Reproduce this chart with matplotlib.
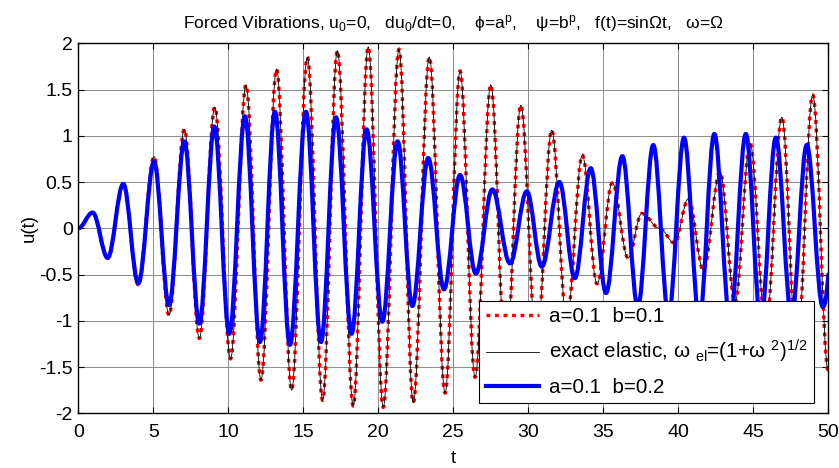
import numpy as np
import matplotlib
matplotlib.use("Agg")
import matplotlib.pyplot as plt
from matplotlib.path import Path
from matplotlib.patches import PathPatch
from matplotlib.lines import Line2D

plt.rcParams['font.family'] = ['Liberation Sans', 'DejaVu Sans']
plt.rcParams['mathtext.fontset'] = 'custom'
plt.rcParams['mathtext.rm'] = 'Liberation Sans'
plt.rcParams['mathtext.it'] = 'Liberation Sans:italic'

# extrema (time, value); curves pass through them
t_b01 = [0, 0.96, 1.96, 3.0, 4.0, 5.05, 6.05, 7.07, 8.07, 9.1, 10.15, 11.18,
         12.18, 13.22, 14.22, 15.27, 16.29, 17.27, 18.33, 19.33, 20.33, 21.38,
         22.33, 23.4, 24.45, 25.45, 26.45, 27.5, 28.5, 29.5, 30.55, 31.56,
         32.56, 33.6, 34.58, 35.6, 36.65, 37.56, 38.75, 39.75, 40.67, 41.67,
         42.78, 43.78, 44.78, 45.83, 46.9, 47.9, 48.96, 50.0]
u_b01 = [0, 0.17, -0.32, 0.48, -0.61, 0.775, -0.94, 1.07, -1.19, 1.31, -1.41, 1.55,
         -1.64, 1.72, -1.75, 1.85, -1.86, 1.92, -1.92, 1.96, -1.935, 1.935,
         -1.885, 1.85, -1.78, 1.70, -1.61, 1.55, -1.45, 1.33, -1.28, 1.06,
         -1.0, 0.79, -0.60, 0.49, -0.32, 0.16, 0.0, -0.16, 0.32, -0.45,
         0.61, -0.80, 0.92, -1.08, 1.20, -1.35, 1.44, -1.55]

# exact elastic solution lies on top of the a=0.1 b=0.1 curve
t_elastic = t_b01
u_elastic = u_b01

t_b02 = [0, 0.96, 1.96, 3.0, 4.0, 5.05, 6.05, 7.07, 8.07, 9.07, 10.07, 11.11,
         12.11, 13.11, 14.11, 15.18, 16.18, 17.18, 18.22, 19.22, 20.27, 21.29,
         22.27, 23.33, 24.38, 25.45, 26.5, 27.6, 28.78, 29.9, 30.9, 32.07,
         33.1, 34.16, 35.18, 36.27, 37.3, 38.33, 39.35, 40.38, 41.4, 42.4,
         43.45, 44.5, 45.5, 46.5, 47.55, 48.56, 49.63, 50.0]
u_b02 = [0, 0.17, -0.32, 0.48, -0.595, 0.72, -0.83, 0.94, -1.03, 1.10, -1.14, 1.21,
         -1.23, 1.26, -1.26, 1.26, -1.23, 1.20, -1.14, 1.07, -1.01, 0.94,
         -0.84, 0.76, -0.66, 0.576, -0.49, 0.42, -0.38, 0.40, -0.415, 0.50,
         -0.54, 0.65, -0.70, 0.78, -0.85, 0.90, -0.93, 0.98, -0.98, 1.02,
         -1.0, 1.02, -1.0, 0.98, -0.95, 0.90, -0.85, -0.5]
end_slope_b02 = 2.0


def smooth_path(t, u, end_slope=0.0, k=0.365):
    """Bezier path through the points with flat tangents (extrema)"""
    slopes = [0.0] * len(t)
    slopes[-1] = end_slope
    verts = [(t[0], u[0])]
    codes = [Path.MOVETO]
    for i in range(len(t) - 1):
        h = t[i + 1] - t[i]
        verts.append((t[i] + k * h, u[i] + slopes[i] * k * h))
        verts.append((t[i + 1] - k * h, u[i + 1] - slopes[i + 1] * k * h))
        verts.append((t[i + 1], u[i + 1]))
        codes += [Path.CURVE4] * 3
    return Path(verts, codes)


fig = plt.figure(figsize=(8.39, 4.68), dpi=100)
ax = fig.add_axes([0.0933, 0.1169, 0.8940, 0.7906])

red_style = dict(color='red', lw=2.5, linestyle=(0, (1.1, 1.35)))
black_style = dict(color='black', lw=0.6)
blue_style = dict(color='blue', lw=3.0)

ax.add_patch(PathPatch(smooth_path(t_b01, u_b01), fill=False, **red_style))
ax.add_patch(PathPatch(smooth_path(t_elastic, u_elastic), fill=False, **black_style))
ax.add_patch(PathPatch(smooth_path(t_b02, u_b02, end_slope_b02), fill=False,
                       capstyle='round', joinstyle='round', **blue_style))

ax.set_xlim(0, 50)
ax.set_ylim(-2, 2)
ax.set_xticks(np.arange(0, 51, 5))
ax.set_yticks(np.arange(-2, 2.01, 0.5))
ax.set_yticklabels(['-2', '-1.5', '-1', '-0.5', '0', '0.5', '1', '1.5', '2'])
ax.grid(True, color='0.55', lw=0.7)
ax.set_axisbelow(True)
ax.tick_params(direction='in', length=4, width=0.8, top=True, right=True,
               labelsize=14)
ax.tick_params(axis='x', pad=8)
ax.tick_params(axis='y', pad=4)
for s in ax.spines.values():
    s.set_linewidth(1.0)

ax.set_xlabel('t', fontsize=13.5, labelpad=6)
ax.set_ylabel('u(t)', fontsize=13.5, labelpad=1)
ax.set_title('Forced Vibrations, u$_0$=0,   du$_0$/dt=0,    ϕ=a$^{\\mathrm{p}}$,    '
             'ψ=b$^{\\mathrm{p}}$,   f(t)=sinΩt,   ω=Ω', fontsize=12.5, pad=11)

handles = [Line2D([], [], **red_style), Line2D([], [], **black_style),
           Line2D([], [], **blue_style)]
labels = ['a=0.1  b=0.1',
          'exact elastic, ω $_{\\mathrm{el}}$=(1+ω $^{2}$)$^{1/2}$',
          'a=0.1  b=0.2']
leg = ax.legend(handles, labels, loc='lower right', bbox_to_anchor=(0.981, 0.028),
                borderaxespad=0, fontsize=14.8, handlelength=2.6, handletextpad=0.5,
                labelspacing=0.6, fancybox=False, framealpha=1, edgecolor='black',
                borderpad=0.3)
leg.get_frame().set_linewidth(0.8)

fig.savefig('out.png', dpi=100)
